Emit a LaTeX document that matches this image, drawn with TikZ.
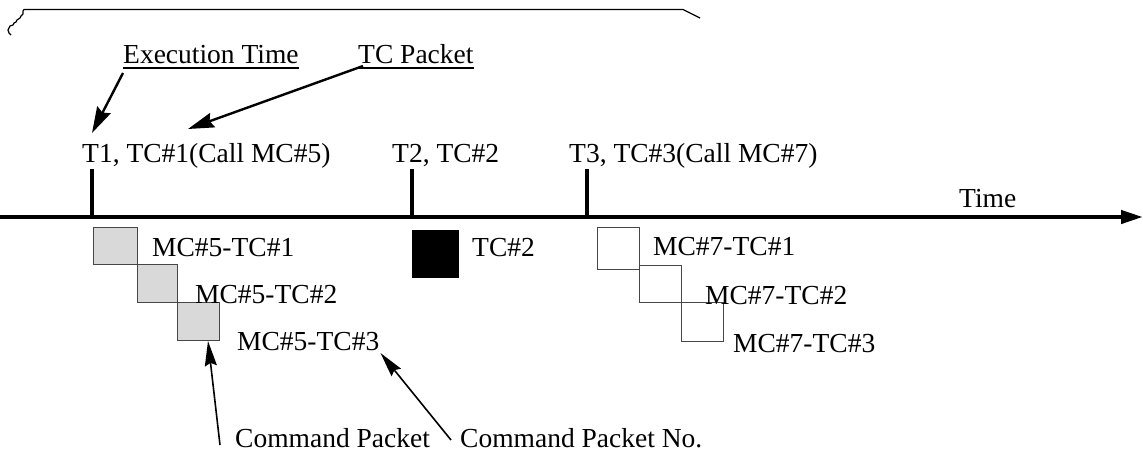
\documentclass[tikz,border=0pt]{standalone}
\usepackage{fontspec}
\setmainfont{Liberation Serif}
\usetikzlibrary{arrows.meta}
\definecolor{pktgray}{RGB}{217,217,217}
\definecolor{edgegray}{RGB}{70,70,70}
\begin{document}
\begin{tikzpicture}[x=1pt,y=-1pt,
  txt/.style={font=\fontsize{27.5}{33}\selectfont, inner sep=0pt, anchor=base west},
  axisline/.style={line width=4.2pt, -{Triangle[length=22pt,width=13pt]}},
  tickline/.style={line width=4pt},
  uline/.style={line width=1.8pt},
  callout/.style={line width=2.4pt, -{Stealth[length=26pt,width=15pt,inset=3pt]}},
  pointer/.style={line width=1.6pt, -{Stealth[length=25pt,width=12pt,inset=3pt]}},
  pktbox/.style={draw=edgegray, line width=1pt, inner sep=0pt, outer sep=0pt, anchor=north west},
  frameline/.style={line width=1.2pt, line join=round}
]
\useasboundingbox (0,0) rectangle (1143,456);

% open frame along the top, torn on the left
\coordinate (fa) at (24,9.5);
\coordinate (fb) at (683,9.5);
\coordinate (fc) at (700,18);
\draw[frameline] (fc) -- (fb) -- (fa) -- (23,11) -- (23,14) -- (21,16) -- (20,18) -- (17,20)
  -- (16,22) -- (14,23) -- (13,25) -- (10,26) -- (9,28) -- (8,30) -- (9,33) -- (11,35);

% time axis and execution ticks
\coordinate (ax0) at (0,217);
\coordinate (ax1) at (1143,217);
\draw[axisline] (ax0) -- (ax1);
\coordinate (t1) at (92,217);  \coordinate (t1top) at (92,169);
\coordinate (t2) at (412,217); \coordinate (t2top) at (412,169);
\coordinate (t3) at (587,217); \coordinate (t3top) at (587,169);
\draw[tickline] (t1top) -- (t1);
\draw[tickline] (t2top) -- (t2);
\draw[tickline] (t3top) -- (t3);

% labels
\node[txt] (et)  at (123,63) {Execution Time};
\node[txt] (tcp) at (358,63) {TC Packet};
\node[txt] (l1)  at (82,162) {T1, TC\#1(Call MC\#5)};
\node[txt] (l2)  at (392,162) {T2, TC\#2};
\node[txt] (l3)  at (569,162) {T3, TC\#3(Call MC\#7)};
\node[txt] (tm)  at (959,207) {Time};

\draw[uline] ([yshift=-5pt]et.base west) -- ([yshift=-5pt]et.base east);
\draw[uline] ([yshift=-5pt]tcp.base west) -- ([yshift=-5pt]tcp.base east);

\draw[callout] ([shift={(0pt,-10pt)}]et.base west) -- ([shift={(10pt,29pt)}]l1.base west);
\draw[callout] ([shift={(5pt,-3pt)}]tcp.base west) -- ([shift={(106pt,33pt)}]l1.base west);

% macro command MC#5
\node[pktbox, fill=pktgray, minimum width=44pt, minimum height=37pt] (b51) at (93,227) {};
\node[pktbox, fill=pktgray, minimum width=40pt, minimum height=38pt] (b52) at (137,264) {};
\node[pktbox, fill=pktgray, minimum width=42pt, minimum height=38pt] (b53) at (177,302) {};
\node[txt] (m51) at (152,256) {MC\#5-TC\#1};
\node[txt] (m52) at (195,303) {MC\#5-TC\#2};
\node[txt] (m53) at (237,350) {MC\#5-TC\#3};

% single command TC#2
\node[pktbox, draw=black, fill=black, minimum width=46pt, minimum height=47pt] (b2) at (412,230) {};
\node[txt] (tc2) at (472,256) {TC\#2};

% macro command MC#7
\node[pktbox, fill=white, minimum width=42pt, minimum height=42pt] (b71) at (597,227) {};
\node[pktbox, minimum width=42pt, minimum height=37pt] (b72) at (639,265) {};
\node[pktbox, minimum width=42pt, minimum height=39pt] (b73) at (681,302) {};
\node[txt] (m71) at (653,255) {MC\#7-TC\#1};
\node[txt] (m72) at (705,304) {MC\#7-TC\#2};
\node[txt] (m73) at (733,352) {MC\#7-TC\#3};

% legend at the bottom
\node[txt] (cp)  at (235,447) {Command Packet};
\node[txt] (cpn) at (460,447) {Command Packet No.};
\draw[pointer] ([shift={(-15pt,2pt)}]cp.base west) -- ([shift={(10pt,-1pt)}]b53.south);
\draw[pointer] ([shift={(-9pt,7pt)}]cpn.base west) -- ([shift={(1pt,-3pt)}]m53.base east);
\end{tikzpicture}
\end{document}
